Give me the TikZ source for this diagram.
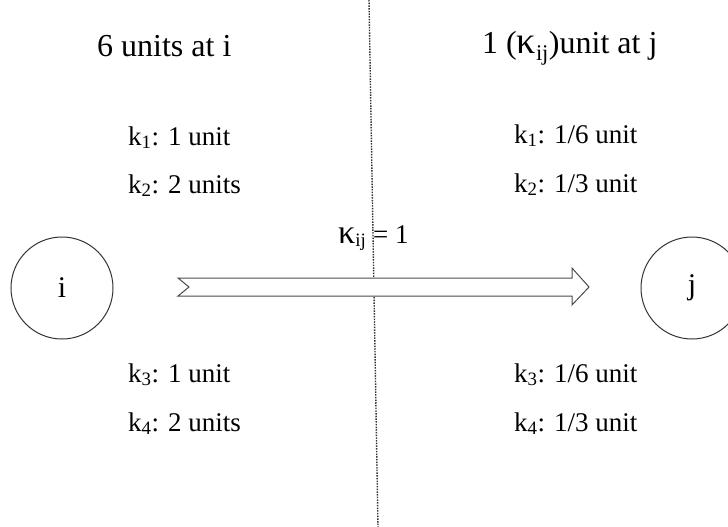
\documentclass[tikz,border=0pt]{standalone}
\usepackage{fontspec}
\setmainfont{Liberation Serif}
\begin{document}
\begin{tikzpicture}[x=1pt,y=-1pt,
  head/.style={anchor=base west,inner sep=0pt,font=\fontsize{32}{36}\selectfont},
  item/.style={anchor=base west,inner sep=0pt,font=\fontsize{27}{30}\selectfont},
  place/.style={circle,draw=black!80,line width=1pt,minimum size=102pt,inner sep=0pt,font=\fontsize{30}{34}\selectfont},
  divider/.style={draw=black!80,line width=1.4pt,dash pattern=on 1.5pt off 1.2pt},
  flow/.style={draw=black!70,line width=1pt,fill=white}]
\useasboundingbox (0,0) rectangle (728,527);
\draw[divider] (369,0) coordinate (dtop) -- (378,527) coordinate (dbot);
\node[head] (hi) at (97,57) {6 units at i};
\node[head] (hj) at (482,54) {1 ({\fontsize{38}{40}\selectfont κ}\textsubscript{ij})unit at j};
\node[item] (l1) at (128,145) {k\textsubscript{1}: 1 unit};
\node[item] (l2) at (128,193) {k\textsubscript{2}: 2 units};
\node[item] (l3) at (128,382) {k\textsubscript{3}: 1 unit};
\node[item] (l4) at (128,431) {k\textsubscript{4}: 2 units};
\node[item] (r1) at (514,143) {k\textsubscript{1}: 1/6 unit};
\node[item] (r2) at (514,192) {k\textsubscript{2}: 1/3 unit};
\node[item] (r3) at (514,382) {k\textsubscript{3}: 1/6 unit};
\node[item] (r4) at (514,431) {k\textsubscript{4}: 1/3 unit};
\node[item] (kap) at (338,243) {{\fontsize{34}{36}\selectfont κ}\textsubscript{ij} = 1};
\node[place] (i) at (62,288) {i};
\node[place] (j) at (692,288) {j};
\draw[flow] (178,278) -- (572,278) -- (572,268) -- (589,287) -- (572,305) -- (572,296) -- (178,296) -- (189,287) -- cycle;
\end{tikzpicture}
\end{document}
